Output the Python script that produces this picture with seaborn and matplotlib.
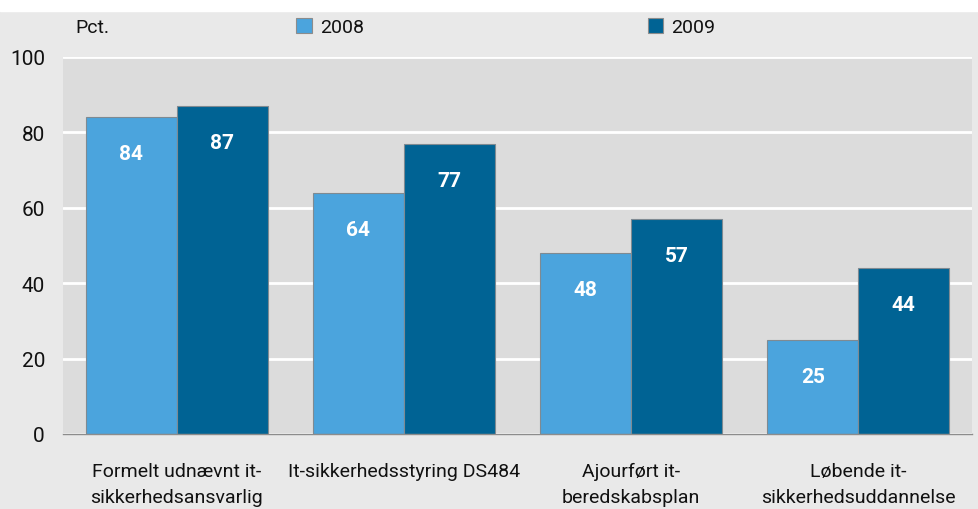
import matplotlib.pyplot as plt
import matplotlib.patches as mpatches
import pandas as pd
import seaborn as sns

# Data
categories = ['Formelt udnævnt it-\nsikkerhedsansvarlig', 'It-sikkerhedsstyring DS484',
              'Ajourført it-\nberedskabsplan', 'Løbende it-\nsikkerhedsuddannelse']
years = ['2008', '2009']
values_2008 = [84, 64, 48, 25]
values_2009 = [87, 77, 57, 44]
colors = ['#4ba4dd', '#006394']

df = pd.DataFrame({
    'kategori': categories * 2,
    'aar': [years[0]] * 4 + [years[1]] * 4,
    'pct': values_2008 + values_2009,
})

sns.set_style('white')
plt.rcParams['font.family'] = ['Roboto', 'DejaVu Sans']
plt.rcParams['text.color'] = '#111111'
plt.rcParams['xtick.color'] = '#111111'
plt.rcParams['ytick.color'] = '#111111'

fig = plt.figure(figsize=(9.79, 5.10), dpi=100, facecolor='#e9e9e9')
fig.patches.append(mpatches.Rectangle((0, 498 / 510), 1, 12 / 510, transform=fig.transFigure,
                                      color='white', zorder=0))
ax = fig.add_axes([63 / 979, 75 / 510, 909 / 979, 377 / 510])
ax.set_facecolor('#dcdcdc')

sns.barplot(data=df, x='kategori', y='pct', hue='aar', palette=colors, width=0.8, saturation=1,
            edgecolor='#7f8a92', linewidth=0.8, ax=ax, legend=False, zorder=3)

for cont in ax.containers:
    ax.bar_label(cont, padding=-33, color='white', fontsize=15, fontweight='bold')

ax.set_ylim(0, 100)
ax.set_yticks([0, 20, 40, 60, 80, 100])
ax.yaxis.grid(True, color='white', linewidth=2, zorder=0)
ax.set_axisbelow(True)
for s in ['top', 'right', 'left']:
    ax.spines[s].set_visible(False)
ax.spines['bottom'].set_color('#8c8c8c')
ax.spines['bottom'].set_linewidth(1)
ax.spines['bottom'].set_zorder(4)
ax.tick_params(axis='x', length=0, labelsize=14, pad=20)
ax.tick_params(axis='y', length=0, labelsize=15, pad=13)
for lab in ax.get_xticklabels():
    lab.set_multialignment('center')
    lab.set_linespacing(1.6)
ax.set_xlabel('')
ax.set_ylabel('')

fig.text(75 / 979, 1 - 28 / 510, 'Pct.', fontsize=14, va='center', ha='left')
handles = [mpatches.Patch(facecolor=c, edgecolor='#8c8c8c', linewidth=0.8) for c in colors]
fig.legend(handles, years, loc='center left', bbox_to_anchor=(279 / 979, 1 - 28 / 510), ncol=2,
           frameon=False, fontsize=14, handlelength=0.8, handleheight=0.8, handletextpad=0.4,
           columnspacing=14.6)

fig.savefig('out.png', dpi=100, facecolor=fig.get_facecolor())
